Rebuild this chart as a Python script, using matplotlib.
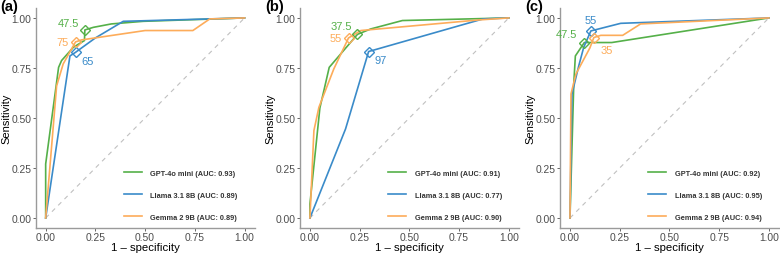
import matplotlib
matplotlib.use("Agg")
import matplotlib.pyplot as plt

plt.rcParams["font.family"] = ["Liberation Sans", "DejaVu Sans"]

panels = ["(a)", "(b)", "(c)"]
models = ["GPT-4o mini", "Llama 3.1 8B", "Gemma 2 9B"]
colors = ["#55b049", "#3a8bc9", "#fdac5a"]

# ROC curves: (1 - specificity, sensitivity)
fpr = [
    [[0, 0, 0.065, 0.08, 0.139, 0.195, 0.197, 0.24, 0.33, 0.49, 1.0],
     [0, 0.122, 0.15, 0.25, 0.39, 1.0],
     [0, 0.055, 0.088, 0.15, 0.18, 0.5, 0.74, 0.825, 1.0]],
    [[0, 0, 0.05, 0.097, 0.239, 0.306, 0.465, 1.0],
     [0, 0.179, 0.295, 0.87, 1.0],
     [0, 0.02, 0.045, 0.12, 0.194, 0.256, 0.85, 1.0]],
    [[0, 0.019, 0.027, 0.072, 0.21, 1.0],
     [0, 0.01, 0.044, 0.069, 0.105, 0.255, 1.0],
     [0, 0.005, 0.03, 0.1, 0.12, 0.155, 0.265, 0.355, 1.0]],
]
tpr = [
    [[0, 0.27, 0.753, 0.787, 0.853, 0.887, 0.94, 0.953, 0.97, 0.983, 1.0],
     [0, 0.81, 0.828, 0.9, 0.983, 1.0],
     [0, 0.66, 0.77, 0.88, 0.89, 0.937, 0.937, 0.995, 1.0]],
    [[0, 0.07, 0.55, 0.753, 0.918, 0.945, 0.987, 1.0],
     [0, 0.445, 0.832, 0.995, 1.0],
     [0, 0.437, 0.553, 0.745, 0.9, 0.937, 0.99, 1.0]],
    [[0, 0.67, 0.81, 0.877, 0.877, 1.0],
     [0, 0.62, 0.76, 0.853, 0.935, 0.973, 1.0],
     [0, 0.62, 0.72, 0.85, 0.902, 0.913, 0.913, 0.97, 1.0]],
]
auc = [[0.93, 0.89, 0.89], [0.91, 0.77, 0.90], [0.92, 0.95, 0.94]]

# optimal thresholds: point and label
thr_x = [[0.197, 0.15, 0.15], [0.239, 0.295, 0.194], [0.072, 0.105, 0.12]]
thr_y = [[0.94, 0.828, 0.88], [0.918, 0.832, 0.9], [0.877, 0.935, 0.902]]
thr_lab = [["47.5", "65", "75"], ["37.5", "97", "55"], ["47.5", "55", "35"]]
# label offsets in points, and horizontal alignment
thr_off = [[(-4, 5), (4, -6), (-5, 0)],
           [(-4, 6), (4, -6), (-5, 0)],
           [(-5, 6), (0, 8), (5, -9)]]
thr_ha = [["right", "left", "right"],
          ["right", "left", "right"],
          ["right", "center", "left"]]

fig = plt.figure(figsize=(7.8, 2.55), dpi=100)
lefts = [0.0458, 0.3846, 0.718]
axes = [fig.add_axes([l, 0.102, 0.2805, 0.863]) for l in lefts]

for p, ax in enumerate(axes):
    ax.plot([0, 1], [0, 1], ls=(0, (4, 4)), color="#c0c0c0", lw=0.8, zorder=1)
    for m in range(3):
        ax.plot(fpr[p][m], tpr[p][m], color=colors[m], lw=1.2,
                label=f"{models[m]} (AUC: {auc[p][m]:.2f})", zorder=2)
        ax.plot(thr_x[p][m], thr_y[p][m], marker="D", ms=5.5, mfc="none",
                mec=colors[m], mew=1.0, zorder=3)
        ax.annotate(thr_lab[p][m], (thr_x[p][m], thr_y[p][m]),
                    xytext=thr_off[p][m], textcoords="offset points",
                    ha=thr_ha[p][m], va="center", color=colors[m], fontsize=8)
    ax.set_xlim(-0.05, 1.05)
    ax.set_ylim(-0.05, 1.05)
    ticks = [0, 0.25, 0.5, 0.75, 1.0]
    ax.set_xticks(ticks)
    ax.set_yticks(ticks)
    ax.set_xticklabels([f"{t:.2f}" for t in ticks])
    ax.set_yticklabels([f"{t:.2f}" for t in ticks])
    ax.tick_params(labelsize=7.4, colors="#4d4d4d", length=2.2, width=0.6,
                   pad=1.0)
    for s in ["top", "right"]:
        ax.spines[s].set_visible(False)
    for s in ["left", "bottom"]:
        ax.spines[s].set_color("#9a9a9a")
        ax.spines[s].set_linewidth(1.0)
    ax.set_xlabel("1 \u2013 specificity", fontsize=8.2)
    ax.set_ylabel("Sensitivity", fontsize=8.0)
    ax.xaxis.set_label_coords(0.5, -0.062)
    ax.yaxis.set_label_coords(-0.112, 0.5)
    leg = ax.legend(loc="lower left", bbox_to_anchor=(0.39, 0.02),
                    frameon=False, prop={"size": 5.3, "weight": "bold"},
                    handlelength=2.4, labelspacing=2.0, handletextpad=1.2,
                    borderaxespad=0)
    for t in leg.get_texts():
        t.set_color("#333333")
    fig.text(lefts[p] - 0.045, 1.0, panels[p], fontsize=10.5,
             fontweight="bold", va="top", ha="left")

fig.savefig("out.png", dpi=100)
